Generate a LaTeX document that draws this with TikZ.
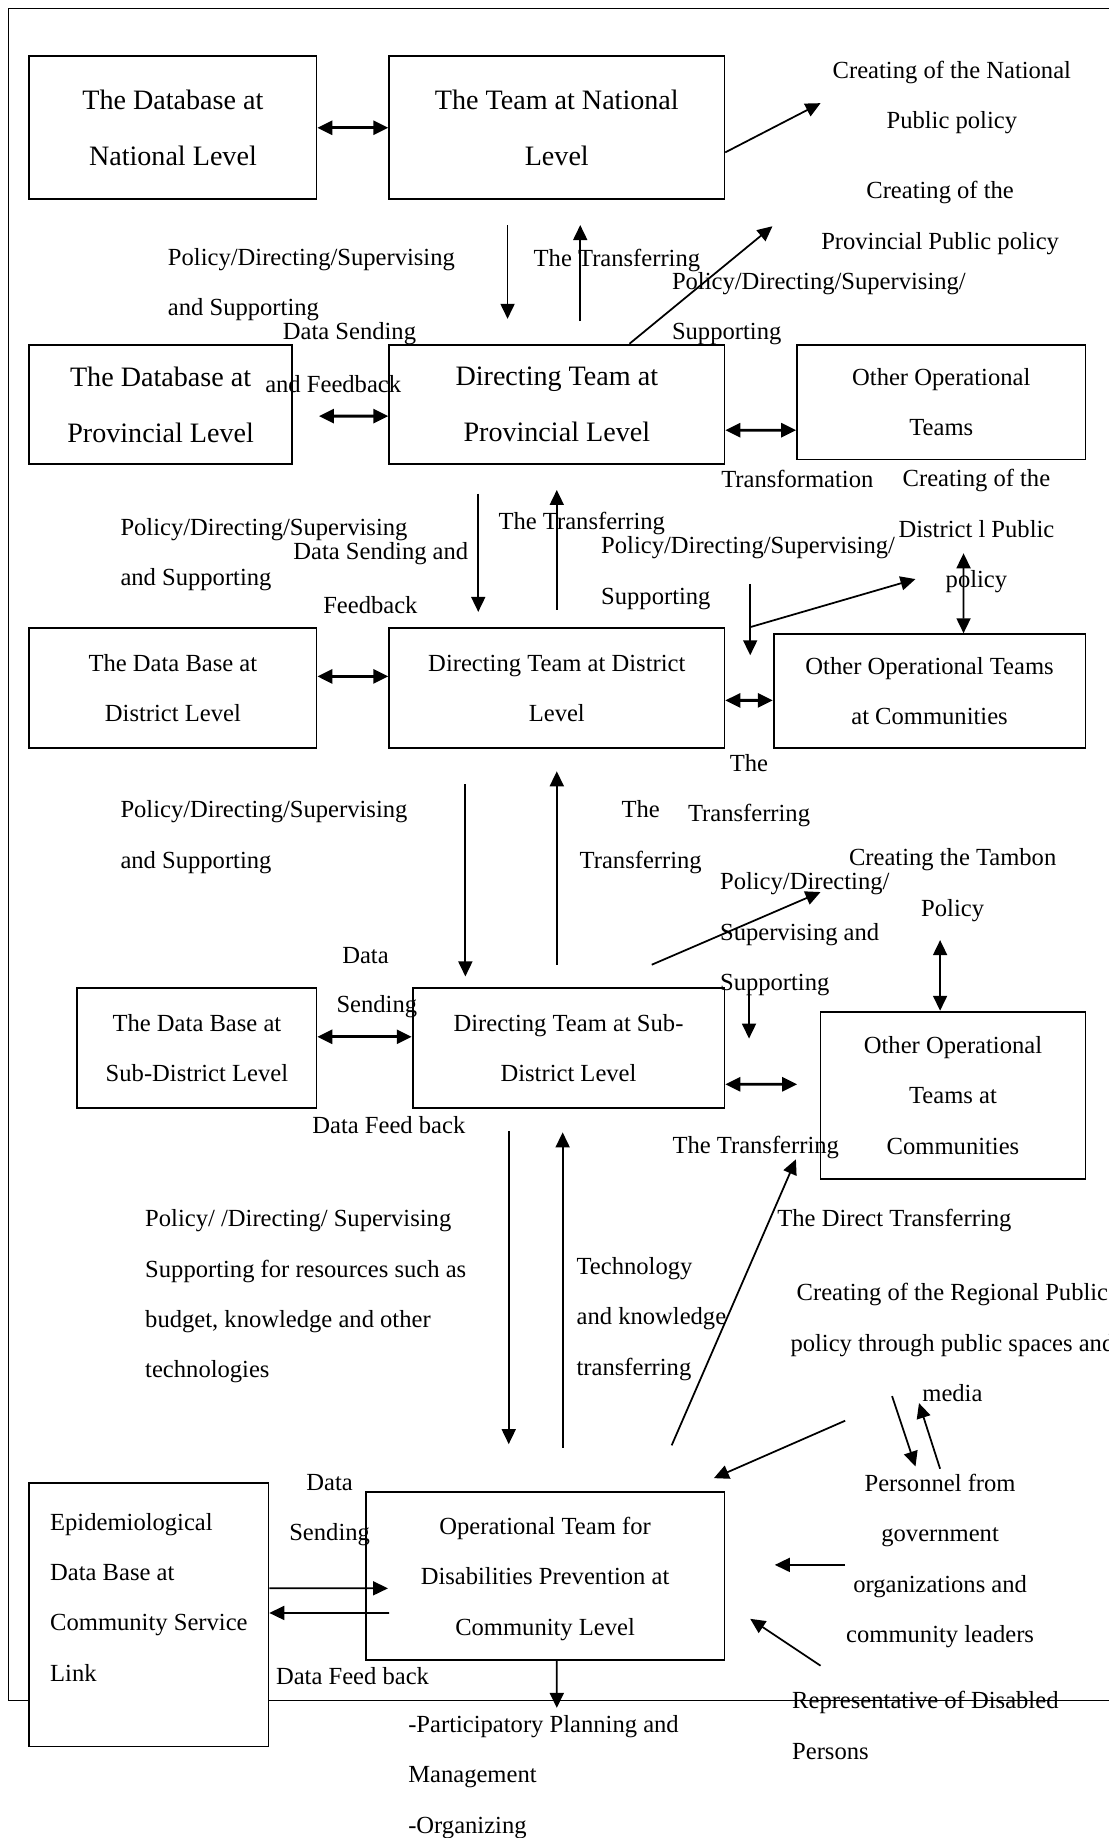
\documentclass[tikz,border=0pt]{standalone}
\usepackage{fontspec}
\setmainfont{Liberation Serif}
\usetikzlibrary{arrows.meta}

\begin{document}
\begin{tikzpicture}[x=0.02345cm, y=-0.02345cm, >={Triangle[length=0.3cm,width=0.28cm]}]

    \useasboundingbox (0,0) rectangle (946,1568);
    \draw[line width=0.6pt] (946,7.5) -- (7.5,7.5) -- (7.5,1451) -- (946,1451); % frame %

    \begin{scope}[every node/.style={rectangle,draw,line width=1pt,fill=white,align=center,font=\fontsize{14}{28.7}\selectfont}, big/.style={font=\fontsize{16}{32}\selectfont}]
        \node[big,minimum width=5.745cm,minimum height=2.861cm] (1) at (147.5,109) {The Database at\\National Level};
        \node[big,minimum width=6.707cm,minimum height=2.861cm] (2) at (475,109) {The Team at National\\Level};
        \node[big,text depth=-0.42cm,minimum width=5.253cm,minimum height=2.392cm] (3) at (137,345) {The Database at\\Provincial Level};
        \node[big,text depth=-0.42cm,minimum width=6.707cm,minimum height=2.392cm] (4) at (475,345) {Directing Team at\\Provincial Level};
        \node[text depth=-0.21cm,minimum width=5.769cm,minimum height=2.298cm] (5) at (803,343) {Other Operational\\Teams};
        \node[text depth=-0.12cm,minimum width=5.745cm,minimum height=2.392cm] (6) at (147.5,587) {The Data Base at\\District Level};
        \node[text depth=-0.12cm,minimum width=6.707cm,minimum height=2.392cm] (7) at (475,587) {Directing Team at District\\Level};
        \node[text depth=-0.2cm,minimum width=6.238cm,minimum height=2.275cm] (8) at (793,589.5) {Other Operational Teams\\at Communities};
        \node[text depth=-0.14cm,minimum width=4.784cm,minimum height=2.392cm] (9) at (168,894) {The Data Base at\\Sub-District Level};
        \node[text depth=-0.14cm,minimum width=6.238cm,minimum height=2.392cm] (10) at (485,894) {Directing Team at Sub-\\District Level};
        \node[text depth=-0.19cm,minimum width=5.3cm,minimum height=3.353cm] (11) at (813,934.5) {Other Operational\\Teams at\\Communities};
        \node[align=left,text depth=0.7cm,minimum width=4.784cm,minimum height=5.276cm] (12) at (127,1377.5) {Epidemiological\\Data Base at\\Community Service\\Link};
        \node[text depth=-0.13cm,minimum width=7.176cm,minimum height=3.353cm] (13) at (465,1344.5) {Operational Team for\\Disabilities Prevention at\\Community Level};
    \end{scope}

    \begin{scope}[every node/.style={inner sep=0pt,yshift=-0.047cm,align=center,font=\fontsize{14}{28.7}\selectfont}]
        \node (t1) at (812,81) {Creating of the National\\Public policy};
        \node (t2) at (802,184) {Creating of the\\Provincial Public policy};
        \node[anchor=west,align=left] (t3) at (143,241) {Policy/Directing/Supervising\\and Supporting};
        \node[anchor=west] (t4) at (455,220) {The Transferring};
        \node[anchor=west,align=left] (t5) at (573,261.5) {Policy/Directing/Supervising/\\Supporting};
        \node[anchor=west] (t6) at (241,283) {Data Sending};
        \node[anchor=west] (t7) at (226,325.5) {and Feedback};
        \node[anchor=west] (t8) at (615,407) {Transformation};
        \node (t9) at (833,451) {Creating of the\\District l Public\\policy};
        \node[anchor=west,align=left] (t10) at (102.5,471) {Policy/Directing/Supervising\\and Supporting};
        \node[anchor=west] (t11) at (250,470.5) {Data Sending and};
        \node (t12) at (316,514) {Feedback};
        \node[anchor=west] (t13) at (425,445) {The Transferring};
        \node[anchor=west,align=left] (t14) at (512.6,487) {Policy/Directing/Supervising/\\Supporting};
        \node (t15) at (639,672.4) {The\\Transferring};
        \node[anchor=west,align=left] (t16) at (102.5,712) {Policy/Directing/Supervising\\and Supporting};
        \node (t17) at (546.6,712) {The\\Transferring};
        \node (t18) at (812.7,753) {Creating the Tambon\\Policy};
        \node[anchor=west,align=left] (t19) at (614,795) {Policy/Directing/\\Supervising and\\Supporting};
        \node (t20) at (311.8,813) {Data};
        \node (t21) at (321.5,856.5) {Sending};
        \node (t22) at (331.7,957.7) {Data Feed back};
        \node (t23) at (644.7,977.2) {The Transferring};
        \node (t24) at (763,1039) {The Direct Transferring};
        \node[anchor=west,align=left] (t25) at (123.6,1104) {Policy/ /Directing/ Supervising\\Supporting for resources such as\\budget, knowledge and other\\technologies};
        \node[anchor=west,align=left] (t26) at (491.6,1123.3) {Technology\\and knowledge\\transferring};
        \node (t27) at (812.5,1143.4) {Creating of the Regional Public\\policy through public spaces and\\media};
        \node (t28) at (802,1329.5) {Personnel from\\government\\organizations and\\community leaders};
        \node[anchor=west,align=left] (t29) at (675.5,1470) {Representative of Disabled\\Persons};
        \node (t30) at (281.2,1286) {Data\\Sending};
        \node (t31) at (300.7,1428) {Data Feed back};
        \node[anchor=west,align=left] (t32) at (348,1514) {-Participatory Planning and\\Management\\-Organizing};
    \end{scope}

    % free arrow ends %
    \coordinate (c1) at (700,88);
    \coordinate (c2) at (433,192);
    \coordinate (c3) at (433,272);
    \coordinate (c4) at (495,274);
    \coordinate (c5) at (495,192);
    \coordinate (c6) at (659,193);
    \coordinate (c7) at (272,355);
    \coordinate (c8) at (408,421);
    \coordinate (c9) at (408,522);
    \coordinate (c10) at (475,520);
    \coordinate (c11) at (475,418);
    \coordinate (c12) at (640,498);
    \coordinate (c13) at (640,559);
    \coordinate (c14) at (640,535);
    \coordinate (c15) at (781,494);
    \coordinate (c16) at (822,472);
    \coordinate (c17) at (397,669);
    \coordinate (c18) at (397,833);
    \coordinate (c19) at (475,823);
    \coordinate (c20) at (475,658);
    \coordinate (c21) at (556,823);
    \coordinate (c22) at (700,761);
    \coordinate (c23) at (639,844);
    \coordinate (c24) at (639,886);
    \coordinate (c25) at (802,802);
    \coordinate (c26) at (680,925);
    \coordinate (c27) at (434,965);
    \coordinate (c28) at (434,1232);
    \coordinate (c29) at (480,1235);
    \coordinate (c30) at (480,966);
    \coordinate (c31) at (573,1233);
    \coordinate (c32) at (679,989);
    \coordinate (c33) at (721,1212);
    \coordinate (c34) at (609,1261);
    \coordinate (c35) at (761,1191);
    \coordinate (c36) at (781,1251);
    \coordinate (c37) at (802,1253);
    \coordinate (c38) at (784,1197);
    \coordinate (c39) at (721,1335);
    \coordinate (c40) at (661,1335);
    \coordinate (c41) at (700,1421);
    \coordinate (c42) at (640,1381);
    \coordinate (c43) at (331,1355);
    \coordinate (c44) at (332,1376);
    \coordinate (c45) at (475,1457);

    \begin{scope}[every edge/.style={draw,line width=1.6pt}]
        % Data links %
        \path [<->] (1) edge (2);
        \path [<->] (c7) edge ([yshift=-0.234cm]4.west);
        \path [<->] ([yshift=-0.516cm]4.east) edge ([yshift=-0.563cm]5.west);
        \path [<->] ([yshift=0.234cm]6.east) edge ([yshift=0.234cm]7.west);
        \path [<->] ([yshift=-0.246cm]7.east) edge ([yshift=-0.188cm]8.west);
        \path [<->] ([yshift=0.223cm]9.east) edge ([yshift=0.223cm]10.west);
        \path [<->] ([yshift=-0.727cm]10.east) edge (c26);
    \end{scope}

    \begin{scope}[every edge/.style={draw,line width=1pt}]
        % Down and up %
        \path [->] ([yshift=-0.492cm]2.east) edge (c1);
        \path [->] (c2) edge (c3);
        \path [->] (c4) edge (c5);
        \path [->] ([xshift=1.454cm]4.north) edge (c6);
        \path [->] (c8) edge (c9);
        \path [->] (c10) edge (c11);
        \path [->] (c12) edge (c13);
        \path [->] (c14) edge (c15);
        \path [<->] (c16) edge ([xshift=0.68cm]8.north);
        \path [->] (c17) edge (c18);
        \path [->] (c19) edge (c20);
        \path [->] (c21) edge (c22);
        \path [->] (c23) edge (c24);
        \path [<->] (c25) edge ([xshift=-0.258cm]11.north);
        \path [->] (c27) edge (c28);
        \path [->] (c29) edge (c30);
        \path [->] (c31) edge (c32);

        % Community level %
        \path [->] (c33) edge (c34);
        \path [->] (c35) edge (c36);
        \path [->] (c37) edge (c38);
        \path [->] (c39) edge (c40);
        \path [->] (c41) edge (c42);
        \path [->] ([yshift=0.528cm]12.east) edge (c43);
        \path [->] (c44) edge ([yshift=0.035cm]12.east);
        \path [->] ([xshift=0.2345cm]13.south) edge (c45);
    \end{scope}

\end{tikzpicture}
\end{document}
